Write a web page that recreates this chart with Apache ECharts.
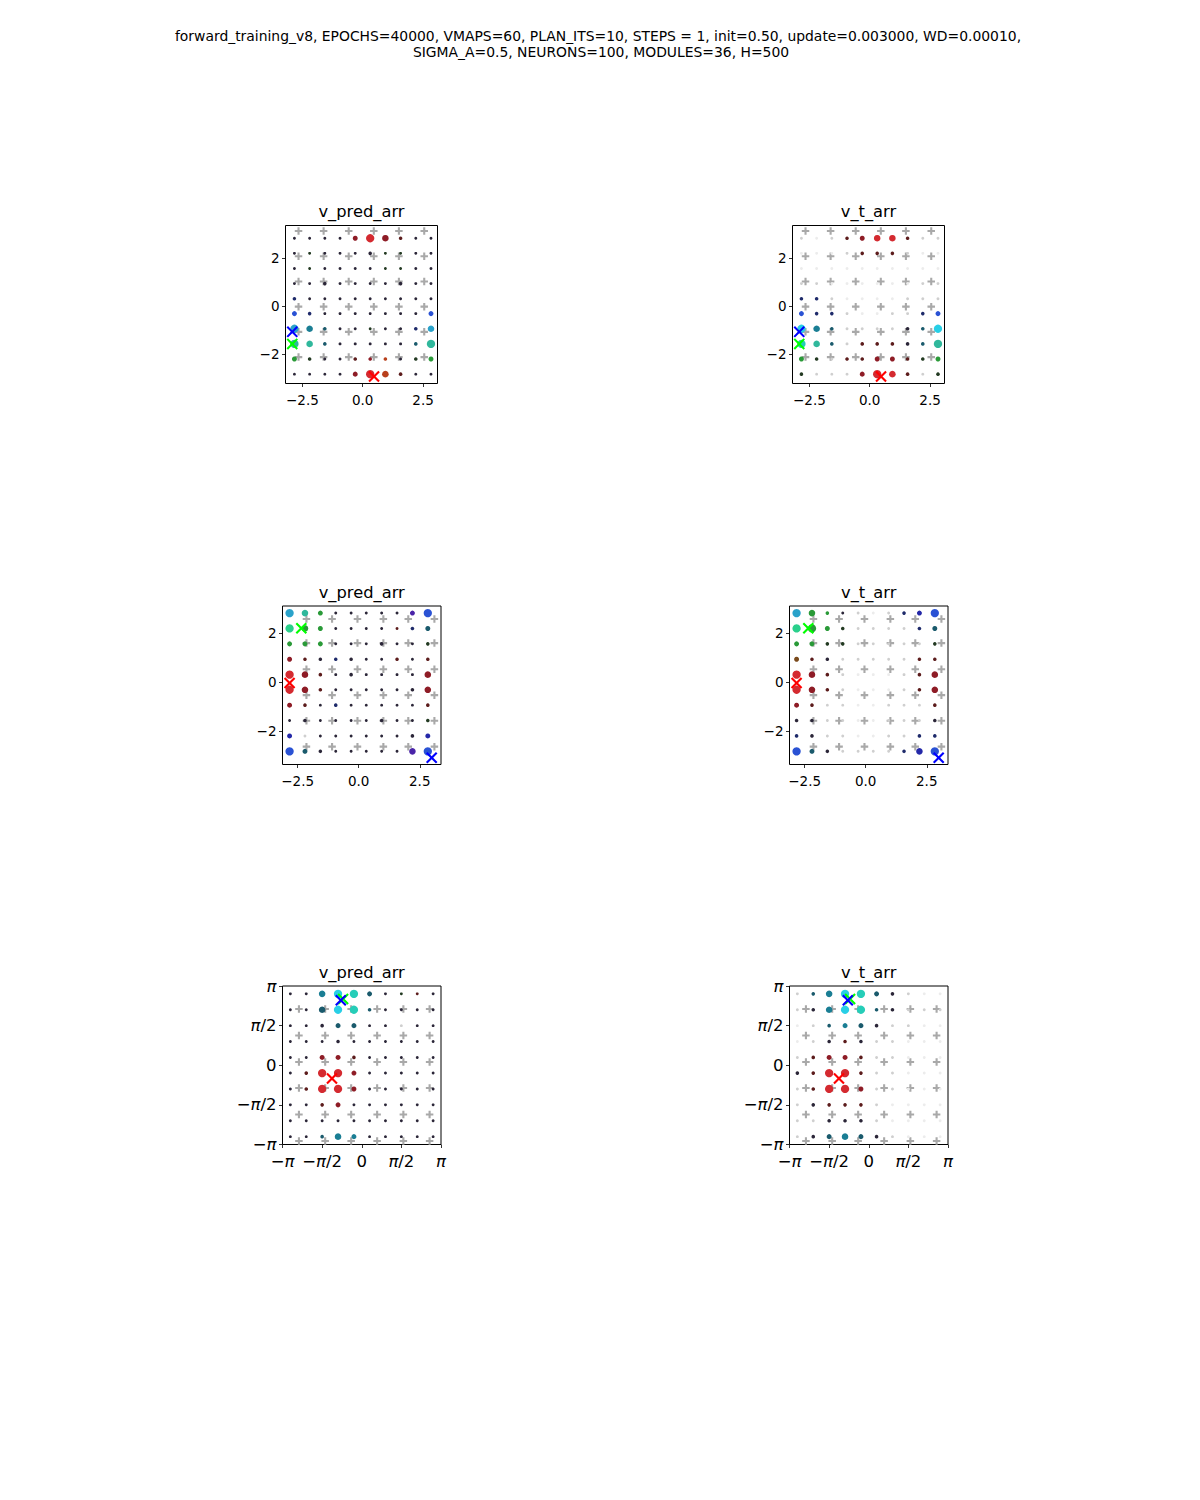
<!DOCTYPE html>
<html><head><meta charset="utf-8">
<script src="https://cdn.jsdelivr.net/npm/echarts@6/dist/echarts.min.js"></script>
<style>html,body{margin:0;padding:0;background:#fff}#c{width:1200px;height:1500px}</style>
</head><body><div id="c"></div>
<script>
// ---------- text ----------
const suptitleLines = [
  'forward_training_v8, EPOCHS=40000, VMAPS=60, PLAN_ITS=10, STEPS = 1, init=0.50, update=0.003000, WD=0.00010,',
  'SIGMA_A=0.5, NEURONS=100, MODULES=36, H=500'
];
const panelTitles = ['v_pred_arr', 'v_t_arr', 'v_pred_arr', 'v_t_arr', 'v_pred_arr', 'v_t_arr'];

// ---------- neuron grid coordinates (10 x 10) ----------
const neuronCoords = [-2.83, -2.20, -1.57, -0.94, -0.31, 0.31, 0.94, 1.57, 2.20, 2.83];

// ---------- module (+) positions per map ----------
const modX1 = [-2.66, -1.62, -0.58, 0.46, 1.50, 2.55];
const modY1 = [3.13, 2.08, 1.03, -0.02, -1.07, -2.12];
const modX2 = [-2.14, -1.09, -0.05, 1.01, 2.03, 3.10];
const modY2 = [2.59, 1.60, 0.53, -0.53, -1.58, -2.64];
const modX3 = [-2.49, -1.45, -0.42, 0.61, 1.65, 2.69];
const modY3 = [2.23, 1.18, 0.13, -0.90, -1.95, -3.00];

// ---------- target (x) markers per map: [red, green, blue] ----------
const targets1 = [[0.47, -2.93], [-2.92, -1.57], [-2.92, -1.07]];
const targets2 = [[-2.83, -0.03], [-2.35, 2.21], [2.99, -3.09]];
const targets3 = [[-1.18, -0.53], [-0.74, 2.63], [-0.83, 2.58]];
const targetColors = ['#ff0000', '#00ff00', '#0000ff'];

// ---------- axis ticks ----------
const numTicksX = [-2.5, 0, 2.5];
const numTickLabelsX = ['\u22122.5', '0.0', '2.5'];
const numTicksY = [-2, 0, 2];
const numTickLabelsY = ['\u22122', '0', '2'];
const piTicks = [-Math.PI, -Math.PI / 2, 0, Math.PI / 2, Math.PI];
const piTickLabels = ['\u2212{i|\u03c0}', '\u2212{i|\u03c0}/2', '0', '{i|\u03c0}/2', '{i|\u03c0}'];

// ---------- neuron dot size classes (digits) and colour codes (letters), rows top->bottom ----------
const p1Sizes = ['1111354211','1111121111','1111111111','1121111211','2111111111','3211111113','5421111124','5421111125','3211222123','1111354211'];
const p1Colors = ['kkkkMRMrkk','kgkkkkggkk','kgkkkkggkk','kkkkkkkkkk','bkkkkkkkkk','BbkkkkkkkB','CTDkkgkkbC','EEDkkkkkDE','GgkkrMOkgG','kkkkMROrkk'];
const p2Sizes = ['1112344211','1111222111','1111111111','1111111111','2211111111','3221111123','5421111225','5421222225','3212233223','2111354212'];
const p2Colors = ['wWwrMRRrww','WWWwrrrwWW','WWWWWWWWWW','wwWWWWWWww','bbwWWWWwww','BbbwWWwwbB','YTDwwwwkDY','ZEDwrrrkDE','GgwrrMMrgG','gwwwMRRrwg'];
const p3Sizes = ['5431111135','5431111123','3331112112','3222211212','5421211114','5421111124','3212111112','1211112112','3111111123','5321111145'];
const p3Colors = ['CEGkkkkkPB','LGGkkkkrbD','GGGkkkkkkg','Mrkbkkkrkr','RMrkkkkkkM','RMrkkkkkkM','Mrkbkkkkkr','kkkkkkkkkg','NwkkkkkkkN','BDkkkkkkPB'];
const p4Sizes = ['5421111235','5532111123','3322111112','3221111122','5421111124','5421111124','3211111112','2211111112','2211111122','5321111245'];
const p4Colors = ['CGGkwWwbNB','LGGgwwwwbD','GGggwwwwwg','Hrkwwwwwrr','RMrwWWWwrM','RMrwWWWwrM','MrwwWWwwwr','kkwwWWwwwk','bkwwWWwwbb','BDkwwwwbNB'];
const p5Sizes = ['1145531111','1145521111','1123311111','1112111111','1133211111','1255311111','1255311111','1123111111','1111111111','1124311111'];
const p5Colors = ['kkTYZDkgrk','kkDYZDkkkk','kkkDDkkwkk','kkkkkkkkkk','kkMMrkkkkk','krRRMkkkkk','krRRMkkkkk','kkrMkkkkkk','kkkkkkkkkk','kkDTTkkkkk'];
const p6Sizes = ['1245532111','1245522111','1123321111','1122211111','1233211111','2255211111','1255311111','1222211111','1122211111','1234321111'];
const p6Colors = ['wDTYZDkwWW','wkTYZDkwww','WwDTDkwwWW','WwkrkwwWWW','wrMMrwwWWW','krRRrwwWWW','wrRRMwwWWW','wkrrrwWWWW','wwkkkwWWWW','wkDTDkwWWW'];

// ---------- styling ----------
const sizePx = {1: 2.9, 2: 3.6, 3: 5.0, 4: 6.6, 5: 8.3};
const palette = {
  k: '#2b2638', g: '#233a22', r: '#5c1c1c', b: '#1e2a6a', w: '#cfcfcf', W: '#ececec',
  R: '#d42a30', M: '#8e1c26', O: '#b8401c', N: '#2428a8', B: '#2a52d4', P: '#4a24a8',
  C: '#2aa2ca', Y: '#28cfe6', Z: '#26cdb8', E: '#30b89c', T: '#1a7e94', D: '#1a5a6c',
  G: '#2a9a38', L: '#2ad08c', H: '#7a4a1c'
};
const FONT = '"DejaVu Sans", "Liberation Sans", sans-serif';
const plusPath = 'path://M3.6,0H6.4V3.6H10V6.4H6.4V10H3.6V6.4H0V3.6H3.6Z';
const xPath = 'path://M0,1.3L1.3,0L5,3.7L8.7,0L10,1.3L6.3,5L10,8.7L8.7,10L5,6.3L1.3,10L0,8.7L3.7,5Z';

const panels = [
  {rect: [285.5, 225.5, 152, 158], xr: [-3.20, 3.10], yr: [-3.22, 3.36], pi: false, mx: modX1, my: modY1, tg: targets1, s: p1Sizes, c: p1Colors},
  {rect: [792.5, 225.5, 152, 158], xr: [-3.20, 3.10], yr: [-3.22, 3.36], pi: false, mx: modX1, my: modY1, tg: targets1, s: p2Sizes, c: p2Colors},
  {rect: [282.5, 606, 158.5, 158.5], xr: [-3.12, 3.37], yr: [-3.37, 3.12], pi: false, mx: modX2, my: modY2, tg: targets2, s: p3Sizes, c: p3Colors},
  {rect: [789.5, 606, 158.5, 158.5], xr: [-3.12, 3.37], yr: [-3.37, 3.12], pi: false, mx: modX2, my: modY2, tg: targets2, s: p4Sizes, c: p4Colors},
  {rect: [282.5, 986, 158.5, 158.5], xr: [-Math.PI, Math.PI], yr: [-Math.PI, Math.PI], pi: true, mx: modX3, my: modY3, tg: targets3, s: p5Sizes, c: p5Colors},
  {rect: [789.5, 986, 158.5, 158.5], xr: [-Math.PI, Math.PI], yr: [-Math.PI, Math.PI], pi: true, mx: modX3, my: modY3, tg: targets3, s: p6Sizes, c: p6Colors}
];

function labelFmt(ticks, labels) {
  return function (v) {
    for (let i = 0; i < ticks.length; i++) if (Math.abs(v - ticks[i]) < 1e-6) return labels[i];
    return '';
  };
}

const grids = [], xAxes = [], yAxes = [], series = [], graphics = [];
panels.forEach((p, i) => {
  const [l, t, w, h] = p.rect;
  grids.push({left: l, top: t, width: w, height: h, show: true, borderColor: '#000', borderWidth: 1,
    backgroundColor: '#fff', containLabel: false, outerBoundsMode: 'none'});
  const xt = p.pi ? piTicks : numTicksX, xl = p.pi ? piTickLabels : numTickLabelsX;
  const yt = p.pi ? piTicks : numTicksY, yl = p.pi ? piTickLabels : numTickLabelsY;
  const fs = p.pi ? 16.5 : 13.5;
  const rich = {i: {fontStyle: 'italic', fontSize: fs, fontFamily: FONT, color: '#000'}};
  xAxes.push({gridIndex: i, type: 'value', min: p.xr[0], max: p.xr[1], position: 'bottom',
    axisLine: {show: false, onZero: false}, splitLine: {show: false},
    axisTick: {show: true, length: 3.5, lineStyle: {color: '#000', width: 0.8}, customValues: xt},
    axisLabel: {show: true, customValues: xt, formatter: labelFmt(xt, xl), color: '#000', fontSize: fs,
      fontFamily: FONT, margin: p.pi ? 8 : 9, rich: rich, hideOverlap: false, showMinLabel: true, showMaxLabel: true}});
  yAxes.push({gridIndex: i, type: 'value', min: p.yr[0], max: p.yr[1], position: 'left',
    axisLine: {show: false, onZero: false}, splitLine: {show: false},
    axisTick: {show: true, length: 3.5, lineStyle: {color: '#000', width: 0.8}, customValues: yt},
    axisLabel: {show: true, customValues: yt, formatter: labelFmt(yt, yl), color: '#000', fontSize: fs,
      fontFamily: FONT, margin: 6, rich: rich, hideOverlap: false, showMinLabel: true, showMaxLabel: true}});

  // module markers (+)
  const modData = [];
  p.my.forEach(yv => p.mx.forEach(xv => modData.push([xv, yv])));
  series.push({type: 'scatter', xAxisIndex: i, yAxisIndex: i, symbol: plusPath, symbolSize: 7.5,
    itemStyle: {color: '#a9a9a9', opacity: 1}, data: modData, silent: true, z: 2});

  // neuron dots
  const dots = [];
  for (let r = 0; r < 10; r++) {
    for (let c = 0; c < 10; c++) {
      dots.push({value: [neuronCoords[c], neuronCoords[9 - r]],
        symbolSize: sizePx[p.s[r][c]], itemStyle: {color: palette[p.c[r][c]], opacity: 1}});
    }
  }
  series.push({type: 'scatter', xAxisIndex: i, yAxisIndex: i, symbol: 'circle', data: dots, silent: true, z: 3,
    itemStyle: {opacity: 1}});

  // targets (x)
  series.push({type: 'scatter', xAxisIndex: i, yAxisIndex: i, symbol: xPath, symbolSize: 11.5, silent: true, z: 4,
    itemStyle: {opacity: 1},
    data: p.tg.map((pt, k) => ({value: pt, itemStyle: {color: targetColors[k], opacity: 1}}))});

  graphics.push({type: 'text', x: l + w / 2, y: t - 14, silent: true,
    style: {text: panelTitles[i], fill: '#000', fontSize: 16.3, fontFamily: FONT, align: 'center', verticalAlign: 'middle'}});
});

graphics.push({type: 'text', x: 598, y: 36, silent: true,
  style: {text: suptitleLines[0], fill: '#000', fontSize: 13.9, fontFamily: FONT, align: 'center', verticalAlign: 'middle'}});
graphics.push({type: 'text', x: 601, y: 52, silent: true,
  style: {text: suptitleLines[1], fill: '#000', fontSize: 13.9, fontFamily: FONT, align: 'center', verticalAlign: 'middle'}});

const chart = echarts.init(document.getElementById('c'), null, {renderer: 'svg', width: 1200, height: 1500});
chart.setOption({
  animation: false,
  backgroundColor: '#fff',
  grid: grids, xAxis: xAxes, yAxis: yAxes, series: series, graphic: graphics
});
</script>
</body></html>
